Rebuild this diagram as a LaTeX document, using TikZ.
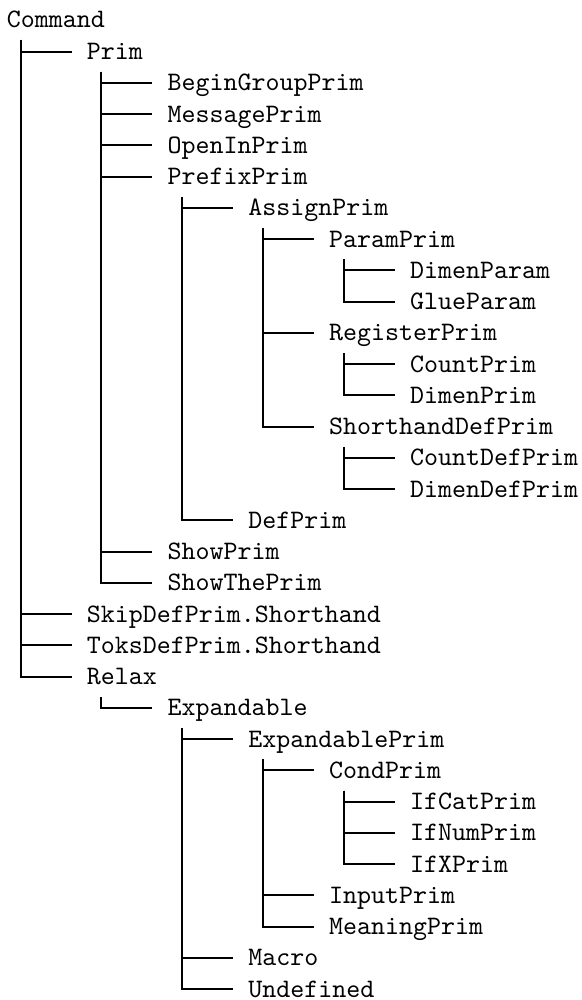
\documentclass[tikz,border=0pt]{standalone}
\begin{document}
\begin{tikzpicture}[x=0.375pt,y=-0.375pt,
  tn/.style={font=\ttfamily, anchor=west, inner sep=0pt, text height=6.1pt, text depth=0pt},
  link/.style={line width=0.8pt}]
\useasboundingbox (0,0) rectangle (582,1000);
\node[tn] (command) at (6.3,19.5) {Command};
\node[tn] (prim) at (86.3,51.6) {Prim};
\node[tn] (begingroup) at (167.1,82.85) {BeginGroupPrim};
\node[tn] (message) at (167.1,114.1) {MessagePrim};
\node[tn] (openin) at (167.1,145.35) {OpenInPrim};
\node[tn] (prefix) at (167.1,176.6) {PrefixPrim};
\node[tn] (assign) at (247.9,207.85) {AssignPrim};
\node[tn] (param) at (328.7,239.1) {ParamPrim};
\node[tn] (dimenparam) at (409.5,270.35) {DimenParam};
\node[tn] (glueparam) at (409.5,301.6) {GlueParam};
\node[tn] (register) at (328.7,332.85) {RegisterPrim};
\node[tn] (countprim) at (409.5,364.1) {CountPrim};
\node[tn] (dimenprim) at (409.5,395.35) {DimenPrim};
\node[tn] (shorthand) at (328.7,426.6) {ShorthandDefPrim};
\node[tn] (countdef) at (409.5,457.85) {CountDefPrim};
\node[tn] (dimendef) at (409.5,489.1) {DimenDefPrim};
\node[tn] (defprim) at (247.9,520.35) {DefPrim};
\node[tn] (showprim) at (167.1,551.6) {ShowPrim};
\node[tn] (showthe) at (167.1,582.85) {ShowThePrim};
\node[tn] (skipdef) at (86.3,614.1) {SkipDefPrim.Shorthand};
\node[tn] (toksdef) at (86.3,645.35) {ToksDefPrim.Shorthand};
\node[tn] (relax) at (86.3,676.6) {Relax};
\node[tn] (expandable) at (167.1,707.85) {Expandable};
\node[tn] (expprim) at (247.9,739.1) {ExpandablePrim};
\node[tn] (cond) at (328.7,770.35) {CondPrim};
\node[tn] (ifcat) at (409.5,801.6) {IfCatPrim};
\node[tn] (ifnum) at (409.5,832.85) {IfNumPrim};
\node[tn] (ifx) at (409.5,864.1) {IfXPrim};
\node[tn] (input) at (328.7,895.35) {InputPrim};
\node[tn] (meaning) at (328.7,926.6) {MeaningPrim};
\node[tn] (macro) at (247.9,957.85) {Macro};
\node[tn] (undefined) at (247.9,989.1) {Undefined};
\foreach \p/\c in {command/prim, command/skipdef, command/toksdef, command/relax,
  prim/begingroup, prim/message, prim/openin, prim/prefix, prim/showprim, prim/showthe,
  prefix/assign, prefix/defprim,
  assign/param, assign/register, assign/shorthand,
  param/dimenparam, param/glueparam,
  register/countprim, register/dimenprim,
  shorthand/countdef, shorthand/dimendef,
  relax/expandable,
  expandable/expprim, expandable/macro, expandable/undefined,
  expprim/cond, expprim/input, expprim/meaning,
  cond/ifcat, cond/ifnum, cond/ifx}
  \draw[link] ([xshift=5.6pt,yshift=-7.6pt]\p.west) |- ([xshift=-5.5pt]\c.west);
\end{tikzpicture}
\end{document}
